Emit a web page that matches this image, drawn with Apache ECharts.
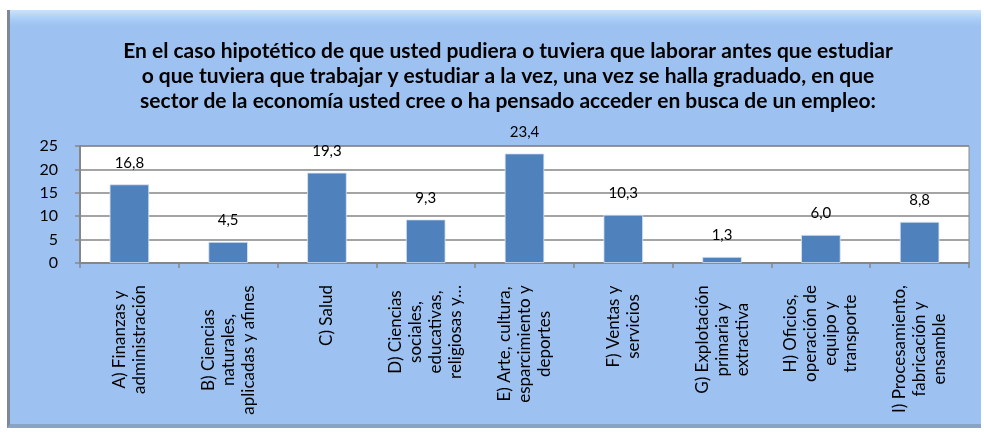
<!DOCTYPE html>
<html>
<head>
<meta charset="utf-8">
<script src="https://cdn.jsdelivr.net/npm/echarts@6/dist/echarts.min.js"></script>
<style>
  html, body { margin: 0; padding: 0; background: #ffffff; }
  #frame {
    position: absolute; left: 7px; top: 10px; width: 971px; height: 414px;
    background: linear-gradient(to bottom, #c9e3fb 0px, #a9cdf5 9px, #9dc2f1 16px, #9dc2f1 100%);
    border-left: 3px solid #7d8796;
    border-bottom: 4px solid #8aa3c4;
    box-sizing: content-box;
  }
  #chart { position: absolute; left: 0; top: 0; width: 984px; height: 439px; }
</style>
</head>
<body>
<div id="frame"></div>
<div id="chart"></div>
<script>
const titleText = 'En el caso hipotético de que usted pudiera o tuviera que laborar antes que estudiar\no que tuviera que trabajar y estudiar a la vez, una vez se halla graduado, en que\nsector de la economía usted cree o ha pensado acceder en busca de un empleo:';
const categories = [
  'A) Finanzas y\nadministración',
  'B) Ciencias\nnaturales,\naplicadas y afines',
  'C) Salud',
  'D) Ciencias\nsociales,\neducativas,\nreligiosas y…',
  'E) Arte, cultura,\nesparcimiento y\ndeportes',
  'F) Ventas y\nservicios',
  'G) Explotación\nprimaria y\nextractiva',
  'H) Oficios,\noperación de\nequipo y\ntransporte',
  'I) Procesamiento,\nfabricación y\nensamble'
];
const values = [16.8, 4.5, 19.3, 9.3, 23.4, 10.3, 1.3, 6.0, 8.8];
const yTicks = { min: 0, max: 25, interval: 5 };

const FONT = 'Lato';
const LABEL_SIZE = 17;

// rich styles so each multi-line label has its lines centred on one another
const ctx = document.createElement('canvas').getContext('2d');
ctx.font = LABEL_SIZE + 'px ' + FONT;
const rich = {};
categories.forEach((c, i) => {
  const w = Math.ceil(Math.max(...c.split('\n').map(s => ctx.measureText(s).width))) + 2;
  rich['c' + i] = { width: w, align: 'center', fontFamily: FONT, fontSize: LABEL_SIZE, lineHeight: 20, color: '#000' };
});

const chart = echarts.init(document.getElementById('chart'), null, { renderer: 'canvas' });
chart.setOption({
  backgroundColor: 'transparent',
  animation: false,
  title: {
    text: titleText,
    left: 503,
    textAlign: 'center',
    top: 34,
    textStyle: { fontFamily: FONT, fontWeight: 'bold', fontSize: 21, lineHeight: 25, color: '#000' }
  },
  grid: {
    left: 80, right: 15, top: 146, bottom: 176,
    show: true, backgroundColor: '#ffffff', borderColor: '#8a8a8a', borderWidth: 1
  },
  xAxis: {
    type: 'category',
    data: categories,
    axisLine: { lineStyle: { color: '#868686', width: 2 } },
    axisTick: { show: true, length: 5, lineStyle: { color: '#868686', width: 1.5 } },
    axisLabel: {
      rotate: 90,
      margin: 21,
      interval: 0,
      formatter: function (val, idx) {
        return val.split('\n').map(s => '{c' + idx + '|' + s + '}').join('\n');
      },
      rich: rich
    }
  },
  yAxis: {
    type: 'value',
    min: yTicks.min, max: yTicks.max, interval: yTicks.interval,
    axisLine: { show: true, lineStyle: { color: '#868686', width: 2 } },
    axisTick: { show: true, length: 5, lineStyle: { color: '#868686', width: 1.5 } },
    axisLabel: { margin: 22, fontFamily: FONT, fontSize: 16, color: '#000' },
    splitLine: { lineStyle: { color: '#868686', width: 1.5 } }
  },
  series: [{
    type: 'bar',
    data: values,
    barWidth: '40%',
    itemStyle: { color: '#4f81bd', borderColor: '#dbe6f3', borderWidth: 0.8 },
    label: {
      show: true, position: 'top', distance: 14,
      fontFamily: FONT, fontSize: 15, color: '#000',
      formatter: p => p.value.toFixed(1).replace('.', ',')
    }
  }]
});
</script>
</body>
</html>
